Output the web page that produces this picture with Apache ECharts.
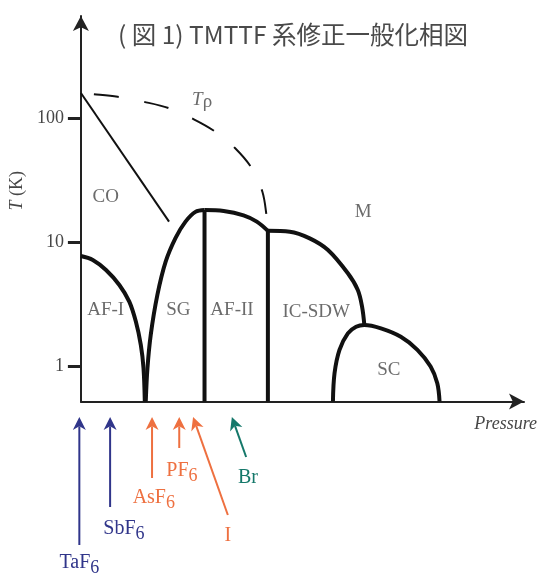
<!DOCTYPE html>
<html><head><meta charset="utf-8">
<script src="https://cdn.jsdelivr.net/npm/echarts@6/dist/echarts.min.js"></script>
<style>html,body{margin:0;padding:0;background:#fff}#c{width:544px;height:581px}</style>
</head><body><div id="c"></div>
<script>
// ---------- data (Pressure in arbitrary units, T in K) ----------
const T_RANGE = [0.517, 665];
const P_RANGE = [0, 10];
const yTickValues = [1, 10, 100];

const afIP = [0, 0.269, 0.567, 0.868, 1.092, 1.240, 1.352, 1.413, 1.442];
const afIT = [7.71, 7.16, 5.94, 4.50, 3.30, 2.28, 1.48, 0.96, 0.517];

const sgP = [1.464, 1.502, 1.576, 1.726, 1.913, 2.137, 2.361, 2.585, 2.79];
const sgT = [0.517, 0.96, 1.78, 3.74, 6.94, 10.8, 14.6, 17.5, 18.1];

const afIIP = [2.79, 3.222, 3.670, 3.969, 4.22];
const afIIT = [18.1, 17.8, 16.4, 14.6, 12.3];

const icP = [4.22, 4.715, 5.164, 5.576, 6.025, 6.249, 6.345, 6.397];
const icT = [12.3, 12.1, 10.7, 8.62, 5.59, 4.10, 3.01, 2.14];

const scP = [5.688, 5.724, 5.836, 6.025, 6.211, 6.397, 6.771, 7.220, 7.594, 7.892, 8.043, 8.094];
const scT = [0.517, 0.874, 1.35, 1.83, 2.07, 2.14, 2.01, 1.72, 1.35, 0.99, 0.725, 0.517];

const boundaryP = [2.79, 4.22];          // vertical phase boundaries
const boundaryTopT = [18.1, 12.3];

const coP = [0, 1.989];
const coT = [159, 14.6];

const trhoP = [0, 0.269, 0.830, 1.428, 1.989, 2.549, 3.034, 3.482, 3.857, 4.096, 4.193, 4.22];
const trhoT = [159, 156, 148.5, 135, 120, 97.6, 77.5, 57, 39.3, 25.4, 16.0, 12.7];

const regionNames = ['CO', 'AF-I', 'SG', 'AF-II', 'IC-SDW', 'M', 'SC'];
const regionP = [0.56, 0.56, 2.20, 3.41, 5.31, 6.37, 6.95];
const regionT = [23, 2.83, 2.83, 2.83, 2.73, 17.5, 0.93];
const trhoLabelP = 2.735, trhoLabelT = 140;

const anions = ['TaF6', 'SbF6', 'AsF6', 'PF6', 'I', 'Br'];
const anionTipP = [0.03, 0.72, 1.66, 2.27, 2.58, 3.45];
const anionTailP = [0.03, 0.72, 1.66, 2.27, 3.36, 3.77];
const anionTailDepth = [143.5, 105.5, 76.5, 46.5, 113.5, 55.5];
const anionLabelP = [0.03, 1.03, 1.70, 2.33, 3.36, 3.81];
const anionLabelDepth = [161.5, 127.5, 96.5, 69.5, 134.5, 76.5];
const anionFamily = [0, 0, 1, 1, 1, 2];

// ---------- styles ----------
const SERIF = "'Liberation Serif','DejaVu Serif',serif";
const LINE = '#111';
const TEXT = '#464646';
const familyColors = ['#30358a', '#ee7040', '#15786a'];
const TIP_DEPTH = 15.5;
const DEPTH_MAX = 179.5;

const lg = v => Math.log10(v);
const toData = (P, T) => P.map((p, i) => [p, lg(T[i])]);

function curve(P, T, width, extra) {
  return Object.assign({
    type: 'line', xAxisIndex: 0, yAxisIndex: 0,
    data: toData(P, T), showSymbol: false, symbol: 'none',
    smooth: 0.35, lineStyle: { color: LINE, width: width }, silent: true
  }, extra || {});
}

const series = [
  curve(afIP, afIT, 4),
  curve(sgP, sgT, 4),
  curve(afIIP, afIIT, 4),
  curve(icP, icT, 4),
  curve(scP, scT, 4),
  ...boundaryP.map((p, i) => curve([p, p], [T_RANGE[0], boundaryTopT[i]], 4, { smooth: false })),
  curve(coP, coT, 2, { smooth: false }),
  curve(trhoP, trhoT, 2, { lineStyle: { color: LINE, width: 2, type: [25, 26], dashOffset: 38 } }),
  {
    type: 'scatter', xAxisIndex: 0, yAxisIndex: 0, symbolSize: 0, silent: true,
    data: regionNames.map((n, i) => ({ name: n, value: [regionP[i], lg(regionT[i])] })),
    label: { show: true, position: 'inside', formatter: '{b}', color: TEXT, fontFamily: SERIF, fontSize: 19 }
  },
  {
    type: 'scatter', xAxisIndex: 0, yAxisIndex: 0, symbolSize: 0, silent: true,
    data: [{ name: 'Tρ', value: [trhoLabelP, lg(trhoLabelT)] }],
    label: {
      show: true, position: 'inside', formatter: '{i|T}{r|ρ}',
      rich: {
        i: { fontStyle: 'italic', fontFamily: SERIF, fontSize: 19, color: TEXT },
        r: { fontFamily: SERIF, fontSize: 19, color: TEXT, padding: [4, 0, 0, 0] }
      }
    }
  },
  {
    type: 'custom', xAxisIndex: 1, yAxisIndex: 1, clip: false, silent: true,
    encode: { x: [0, 2, 4], y: [1, 3, 5] },
    data: anions.map((a, i) => [anionTipP[i], TIP_DEPTH, anionTailP[i], anionTailDepth[i], anionLabelP[i], anionLabelDepth[i]]),
    renderItem: function (params, api) {
      const i = params.dataIndex;
      const color = familyColors[anionFamily[i]];
      const tip = api.coord([api.value(0), api.value(1)]);
      const tail = api.coord([api.value(2), api.value(3)]);
      const lab = api.coord([api.value(4), api.value(5)]);
      const dx = tip[0] - tail[0], dy = tip[1] - tail[1];
      const L = Math.hypot(dx, dy); const ux = dx / L, uy = dy / L;
      const px = -uy, py = ux;
      const hl = 13, hw = 6.5;
      const bx = tip[0] - ux * hl, by = tip[1] - uy * hl;
      const nx = tip[0] - ux * hl * 0.72, ny = tip[1] - uy * hl * 0.72;
      const m = anions[i].match(/^(\D+)(\d*)$/);
      const txt = '{n|' + m[1] + '}' + (m[2] ? '{s|' + m[2] + '}' : '');
      return {
        type: 'group',
        children: [
          { type: 'line', shape: { x1: tail[0], y1: tail[1], x2: nx, y2: ny }, style: { stroke: color, lineWidth: 2 } },
          { type: 'polygon', shape: { points: [[tip[0], tip[1]], [bx + px * hw, by + py * hw], [nx, ny], [bx - px * hw, by - py * hw]] }, style: { fill: color } },
          {
            type: 'text', x: lab[0], y: lab[1],
            style: {
              text: txt, align: 'center', verticalAlign: 'middle', fill: color,
              rich: {
                n: { fontFamily: SERIF, fontSize: 20, fill: color },
                s: { fontFamily: SERIF, fontSize: 18, fill: color, padding: [10, 0, 0, 0] }
              }
            }
          }
        ]
      };
    }
  }
];

const option = {
  animation: false,
  backgroundColor: '#fff',
  title: {
    text: '( 図 1) TMTTF 系修正一般化相図',
    left: 113, top: 17,
    textStyle: { fontFamily: "'Noto Sans CJK JP','Noto Sans',sans-serif", fontSize: 24.5, fontWeight: 'normal', color: '#4a4a4a' }
  },
  grid: [
    { left: 78, right: 20, top: 16, bottom: 179.5, containLabel: false },
    { left: 78, right: 20, top: 401.5, bottom: 0, containLabel: false }
  ],
  xAxis: [
    {
      type: 'value', gridIndex: 0, min: P_RANGE[0], max: P_RANGE[1],
      name: 'Pressure', nameLocation: 'end', nameGap: 13,
      nameTextStyle: { fontFamily: SERIF, fontStyle: 'italic', fontSize: 18, color: TEXT, align: 'right', verticalAlign: 'top', padding: [14, 0, 0, 0] },
      axisLine: { show: true, onZero: false, symbol: ['none', 'arrow'], symbolSize: [12, 15], lineStyle: { color: '#222', width: 2 } },
      axisTick: { show: false }, axisLabel: { show: false }, splitLine: { show: false }
    },
    { type: 'value', gridIndex: 1, min: P_RANGE[0], max: P_RANGE[1], show: false }
  ],
  yAxis: [
    {
      type: 'value', gridIndex: 0, min: lg(T_RANGE[0]), max: lg(T_RANGE[1]),
      name: '{i|T} (K)', nameLocation: 'middle', nameRotate: 90, nameGap: 53,
      nameTextStyle: {
        fontFamily: SERIF, fontSize: 18, color: TEXT, padding: [0, 0, 0, 36],
        rich: { i: { fontFamily: SERIF, fontStyle: 'italic', fontSize: 18, color: TEXT } }
      },
      axisLine: { show: true, onZero: false, symbol: ['none', 'arrow'], symbolSize: [12, 15], lineStyle: { color: '#222', width: 2 } },
      axisTick: { show: true, customValues: yTickValues.map(lg), length: 13, lineStyle: { color: '#222', width: 3 } },
      axisLabel: {
        show: true, customValues: yTickValues.map(lg), margin: 17,
        formatter: v => String(Math.round(Math.pow(10, v))),
        fontFamily: SERIF, fontSize: 18, color: TEXT
      },
      splitLine: { show: false }
    },
    { type: 'value', gridIndex: 1, min: 0, max: DEPTH_MAX, inverse: true, show: false }
  ],
  series: series
};

const chart = echarts.init(document.getElementById('c'), null, { renderer: 'canvas' });
chart.setOption(option);
</script>
</body></html>
